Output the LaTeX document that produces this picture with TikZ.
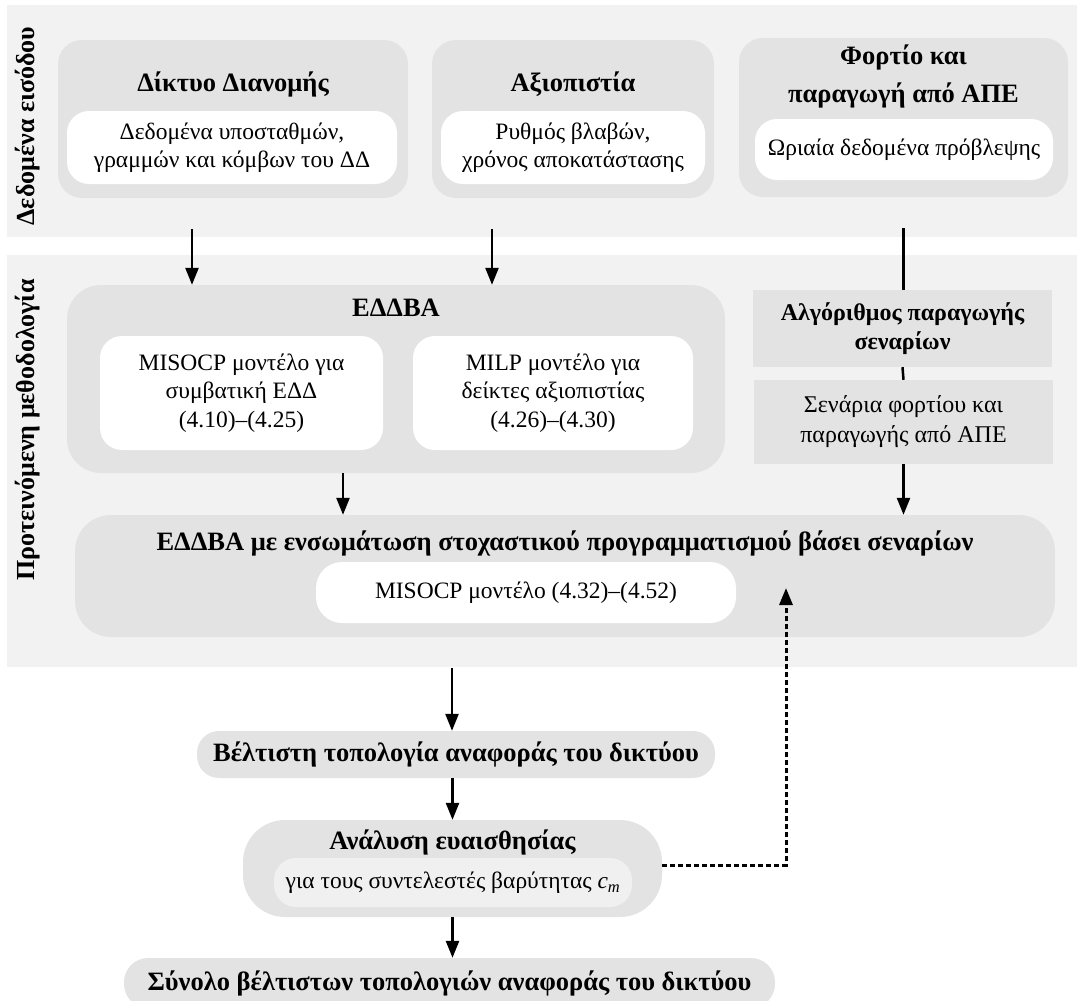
\documentclass[tikz,border=0pt]{standalone}
\usepackage{fontspec}
\setmainfont{Liberation Serif}
\usepackage{xcolor}
\definecolor{BandGray}{HTML}{F2F2F2}
\definecolor{BoxGray}{HTML}{E3E3E3}
\definecolor{SoftGray}{HTML}{F0F0F0}
\usetikzlibrary{arrows.meta, positioning, calc}

\begin{document}
\begin{tikzpicture}[x=1pt, y=-1pt,
  every node/.style={inner sep=0pt, align=center},
  body/.style={font=\fontsize{23.5}{28.5}\selectfont},
  head/.style={font=\fontsize{26.5}{30}\selectfont\bfseries},
  side/.style={font=\fontsize{26}{30}\selectfont\bfseries, rotate=90},
  band/.style={rectangle, fill=BandGray},
  grpbox/.style={rectangle, rounded corners=24pt, fill=BoxGray},
  flatbox/.style={rectangle, fill=BoxGray},
  whitebox/.style={rectangle, rounded corners=22pt, fill=white, body},
  arr/.style={-{Triangle[length=17pt,width=13pt]}, line width=2.5pt},
  dasharr/.style={arr, line width=3pt, dash pattern=on 5pt off 3pt}
]
\clip (0,0) rectangle (1084,1001);

% bands
\node[band, minimum width=1070pt, minimum height=232pt] (INBAND)  at (542,121) {};
\node[band, minimum width=1070pt, minimum height=412pt] (METBAND) at (542,461) {};
\node[side] (INLBL)  at (28,126) {Δεδομένα εισόδου};
\node[side] (METLBL) at (28,430) {Προτεινόμενη μεθοδολογία};

% input data
\node[grpbox, minimum width=350pt, minimum height=158pt] (NET) at (233,119) {};
\node[head] (NETT) at (233,84) {Δίκτυο Διανομής};
\node[whitebox, minimum width=330pt, minimum height=73pt] (NETD) at (232,147.5)
  {Δεδομένα υποσταθμών,\\γραμμών και κόμβων του ΔΔ};

\node[grpbox, minimum width=282pt, minimum height=158pt] (REL) at (573,119) {};
\node[head] (RELT) at (573,84) {Αξιοπιστία};
\node[whitebox, minimum width=264pt, minimum height=73pt] (RELD) at (573,147.5)
  {Ρυθμός βλαβών,\\χρόνος αποκατάστασης};

\node[grpbox, minimum width=329pt, minimum height=159pt] (LOAD) at (903.5,117.5) {};
\node[head, font=\fontsize{26.5}{38}\selectfont\bfseries] (LOADT) at (903.5,76)
  {Φορτίο και\\παραγωγή από ΑΠΕ};
\node[whitebox, minimum width=298pt, minimum height=61pt] (LOADD) at (904,149.5)
  {Ωριαία δεδομένα πρόβλεψης};

% methodology
\node[grpbox, rounded corners=34pt, minimum width=658pt, minimum height=188pt] (EDDBA) at (396,379) {};
\node[head] (EDDBAT) at (396,308) {ΕΔΔΒΑ};
\node[whitebox, minimum width=283pt, minimum height=114pt] (MISOCP) at (241.5,393)
  {MISOCP μοντέλο για\\συμβατική ΕΔΔ\\(4.10)–(4.25)};
\node[whitebox, minimum width=280pt, minimum height=114pt] (MILP) at (553,393)
  {MILP μοντέλο για\\δείκτες αξιοπιστίας\\(4.26)–(4.30)};

\coordinate (LOADout) at ([yshift=-31pt]LOAD.south);
\draw[line width=2.5pt] (LOADout) -- (LOADout |- 0,290);

\node[flatbox, font=\fontsize{24}{29}\selectfont\bfseries, minimum width=299pt, minimum height=77pt] (ALGO) at (902.5,328.5)
  {Αλγόριθμος παραγωγής\\σεναρίων};
\node[flatbox, font=\fontsize{24}{30}\selectfont, minimum width=299pt, minimum height=84pt] (SCEN) at (903.5,422)
  {Σενάρια φορτίου και\\παραγωγής από ΑΠΕ};

\node[grpbox, rounded corners=36pt, minimum width=980pt, minimum height=122pt] (STOCH) at (565,576) {};
\node[head] (STOCHT) at (565,543)
  {ΕΔΔΒΑ με ενσωμάτωση στοχαστικού προγραμματισμού βάσει σεναρίων};
\node[whitebox, rounded corners=26pt, minimum width=420pt, minimum height=61pt] (STOCHM) at (526,592.5)
  {MISOCP μοντέλο (4.32)–(4.52)};

% results
\node[grpbox, rounded corners=22pt, head, minimum width=518pt, minimum height=47pt] (TOPO) at (456,754.5)
  {Βέλτιστη τοπολογία αναφοράς του δικτύου};
\node[grpbox, rounded corners=42pt, minimum width=419pt, minimum height=97pt] (SENS) at (452.5,868.5) {};
\node[head] (SENST) at (452.5,842) {Ανάλυση ευαισθησίας};
\node[rectangle, rounded corners=22pt, fill=SoftGray, body, minimum width=358pt, minimum height=49pt] (SENSD) at (453,882.5)
  {για τους συντελεστές βαρύτητας \textit{c}\textsubscript{\textit{m}}};
\node[grpbox, rounded corners=24pt, head, minimum width=651pt, minimum height=50pt] (SET) at (449.5,983)
  {Σύνολο βέλτιστων τοπολογιών αναφοράς του δικτύου};

% connectors
\coordinate (NETout) at ([xshift=-41pt,yshift=-31pt]NET.south);
\coordinate (RELout) at ([xshift=-81pt,yshift=-31pt]REL.south);
\coordinate (METout) at ([xshift=-90pt,yshift=-1pt]METBAND.south);
\coordinate (FEEDin) at (786,588);

\draw[arr] (NETout) -- (NETout |- EDDBA.north);
\draw[arr] (RELout) -- (RELout |- EDDBA.north);
\draw[line width=2.5pt] (ALGO.south) -- (SCEN.north);
\draw[arr] (SCEN.south) -- (SCEN.south |- STOCH.north);
\draw[arr] ([xshift=-53pt]EDDBA.south) -- ([xshift=-53pt]EDDBA.south |- STOCH.north);
\draw[arr] (METout) -- (METout |- TOPO.north);
\draw[arr] (SENS.north |- TOPO.south) -- (SENS.north);
\draw[arr] (SENS.south) -- (SENS.south |- SET.north);
\draw[dasharr] ([yshift=3pt]SENS.east) -| (FEEDin);

\end{tikzpicture}
\end{document}
